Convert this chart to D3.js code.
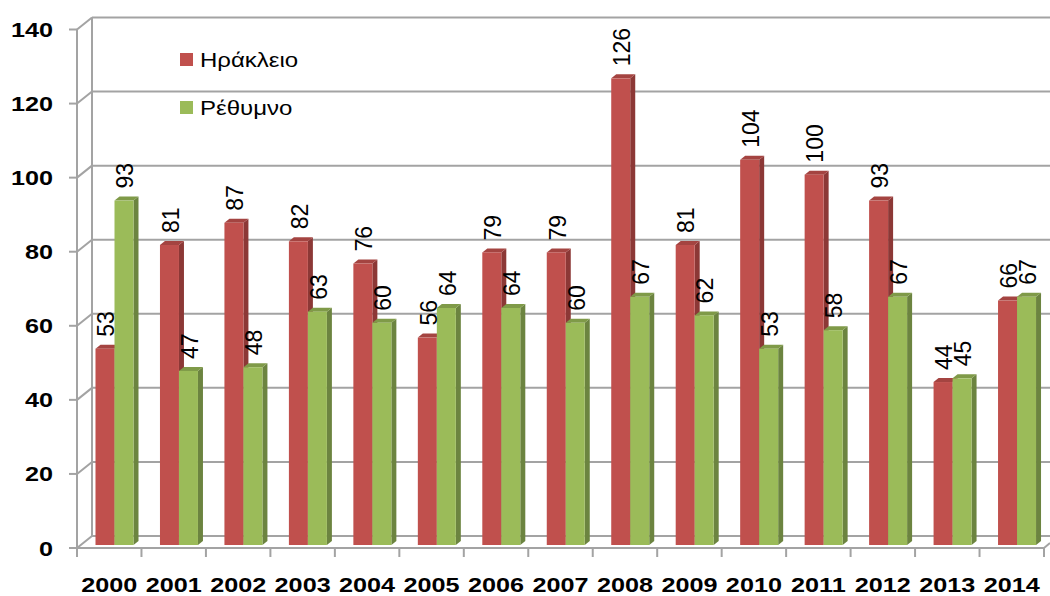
<!DOCTYPE html>
<html>
<head>
<meta charset="utf-8">
<script src="https://cdn.jsdelivr.net/npm/d3@7"></script>
<style>
  body { margin: 0; background: #fff; }
  svg text { font-family: "Liberation Sans", Arial, sans-serif; fill: #000; }
</style>
</head>
<body>
<div id="chart"></div>
<script>
// -------- DATA --------
const years = ["2000","2001","2002","2003","2004","2005","2006","2007","2008","2009","2010","2011","2012","2013","2014"];
const heraklion = [53, 81, 87, 82, 76, 56, 79, 79, 126, 81, 104, 100, 93, 44, 66];
const rethymno  = [93, 47, 48, 63, 60, 64, 64, 60, 67, 62, 53, 58, 67, 45, 67];
const yTicks = [0, 20, 40, 60, 80, 100, 120, 140];
const seriesNames = ["Ηράκλειο", "Ρέθυμνο"];

// -------- LAYOUT --------
const width = 1050, height = 596;
const axisX = 77, axisRight = 1044;
const wall = {dx: 15, dy: -12};   // back wall offset
const barShift = -3;              // bars sit slightly behind the front edge
const depth = {dx: 5, dy: -4};    // bar side/top depth
const barOffset = 18.5, barW = 19;

const colors = [
  {front: "#c0504d", side: "#8c3836", top: "#a44441"},
  {front: "#9bbb59", side: "#6c8440", top: "#7f9a48"}
];
const gridColor = "#a3a3a3";

const svg = d3.select("#chart").append("svg")
  .attr("width", width)
  .attr("height", height);

const x = d3.scaleBand()
  .domain(years)
  .range([axisX, axisRight])
  .paddingInner(0).paddingOuter(0);

const y = d3.scaleLinear()
  .domain([0, 140])
  .range([548, 29.5]);

// --- back wall + gridlines ---
const grid = svg.append("g");
grid.selectAll("line.grid")
  .data(yTicks)
  .join("line")
    .attr("x1", axisX + wall.dx)
    .attr("x2", width)
    .attr("y1", d => y(d) + wall.dy)
    .attr("y2", d => y(d) + wall.dy)
    .attr("stroke", gridColor)
    .attr("stroke-width", 2);

// diagonal connectors from front axis to wall
grid.selectAll("line.diag")
  .data(yTicks)
  .join("line")
    .attr("x1", axisX)
    .attr("x2", axisX + wall.dx)
    .attr("y1", d => y(d))
    .attr("y2", d => y(d) + wall.dy)
    .attr("stroke", gridColor)
    .attr("stroke-width", 2);

// back wall vertical
grid.append("line")
  .attr("x1", axisX + wall.dx).attr("x2", axisX + wall.dx)
  .attr("y1", y(140) + wall.dy).attr("y2", y(0) + wall.dy)
  .attr("stroke", gridColor).attr("stroke-width", 2);

// floor right edge
grid.append("line")
  .attr("x1", axisRight).attr("x2", axisRight + 6)
  .attr("y1", y(0)).attr("y2", y(0) - 5)
  .attr("stroke", gridColor).attr("stroke-width", 2);

// --- bars ---
const barsG = svg.append("g");
const barData = [];
years.forEach((yr, i) => {
  [heraklion[i], rethymno[i]].forEach((v, s) => barData.push({year: yr, value: v, s: s}));
});

const pts = arr => arr.map(p => p.join(",")).join(" ");

barData.forEach(d => {
  const x0 = x(d.year) + barOffset + d.s * barW;
  const x1 = x0 + barW;
  const yt = y(d.value) + barShift;
  const yb = y(0) + barShift;
  const c = colors[d.s];
  const g = barsG.append("g");
  g.append("polygon")
    .attr("points", pts([[x1, yt], [x1 + depth.dx, yt + depth.dy], [x1 + depth.dx, yb + depth.dy], [x1, yb]]))
    .attr("fill", c.side);
  g.append("polygon")
    .attr("points", pts([[x0, yt], [x0 + depth.dx, yt + depth.dy], [x1 + depth.dx, yt + depth.dy], [x1, yt]]))
    .attr("fill", c.top);
  g.append("rect")
    .attr("x", x0).attr("y", yt)
    .attr("width", barW).attr("height", yb - yt)
    .attr("fill", c.front);
});

// --- front axes ---
const axisG = svg.append("g");
axisG.append("line")
  .attr("x1", axisX).attr("x2", axisX)
  .attr("y1", y(140)).attr("y2", y(0))
  .attr("stroke", gridColor).attr("stroke-width", 2);
axisG.append("line")
  .attr("x1", axisX).attr("x2", axisRight)
  .attr("y1", y(0)).attr("y2", y(0))
  .attr("stroke", gridColor).attr("stroke-width", 2);

// y ticks
axisG.selectAll("line.ytick")
  .data(yTicks)
  .join("line")
    .attr("x1", axisX - 8).attr("x2", axisX)
    .attr("y1", d => y(d)).attr("y2", d => y(d))
    .attr("stroke", gridColor).attr("stroke-width", 2);

// x ticks (band boundaries)
const xBounds = years.map(yr => x(yr)).concat([axisRight]);
axisG.selectAll("line.xtick")
  .data(xBounds)
  .join("line")
    .attr("x1", d => d).attr("x2", d => d)
    .attr("y1", y(0)).attr("y2", y(0) + 9)
    .attr("stroke", gridColor).attr("stroke-width", 2);

// y tick labels
axisG.selectAll("text.ylab")
  .data(yTicks)
  .join("text")
    .attr("transform", d => `translate(53, ${y(d) + 7.5}) scale(1.2,1)`)
    .attr("text-anchor", "end")
    .style("font-size", "21px")
    .style("font-weight", "bold")
    .text(d => d);

// x tick labels
axisG.selectAll("text.xlab")
  .data(years)
  .join("text")
    .attr("transform", d => `translate(${x(d) + x.bandwidth() / 2}, 592) scale(1.2,1)`)
    .attr("text-anchor", "middle")
    .style("font-size", "21px")
    .style("font-weight", "bold")
    .text(d => d);

// --- data labels (rotated) ---
svg.append("g").selectAll("text")
  .data(barData)
  .join("text")
    .attr("transform", d => {
      const cx = x(d.year) + barOffset + d.s * barW + barW / 2 + 1;
      const ty = y(d.value) + barShift - 12;
      return `translate(${cx}, ${ty}) rotate(-90)`;
    })
    .attr("dy", "0.36em")
    .attr("text-anchor", "start")
    .style("font-size", "23px")
    .text(d => d.value);

// --- legend ---
const legend = svg.append("g");
const legendY = [53, 101];
seriesNames.forEach((name, i) => {
  legend.append("rect")
    .attr("x", 180).attr("y", legendY[i])
    .attr("width", 13).attr("height", 13)
    .attr("fill", colors[i].front);
  legend.append("text")
    .attr("transform", `translate(200, ${legendY[i] + 14}) scale(1.2,1)`)
    .style("font-size", "20px")
    .text(name);
});
</script>
</body>
</html>
